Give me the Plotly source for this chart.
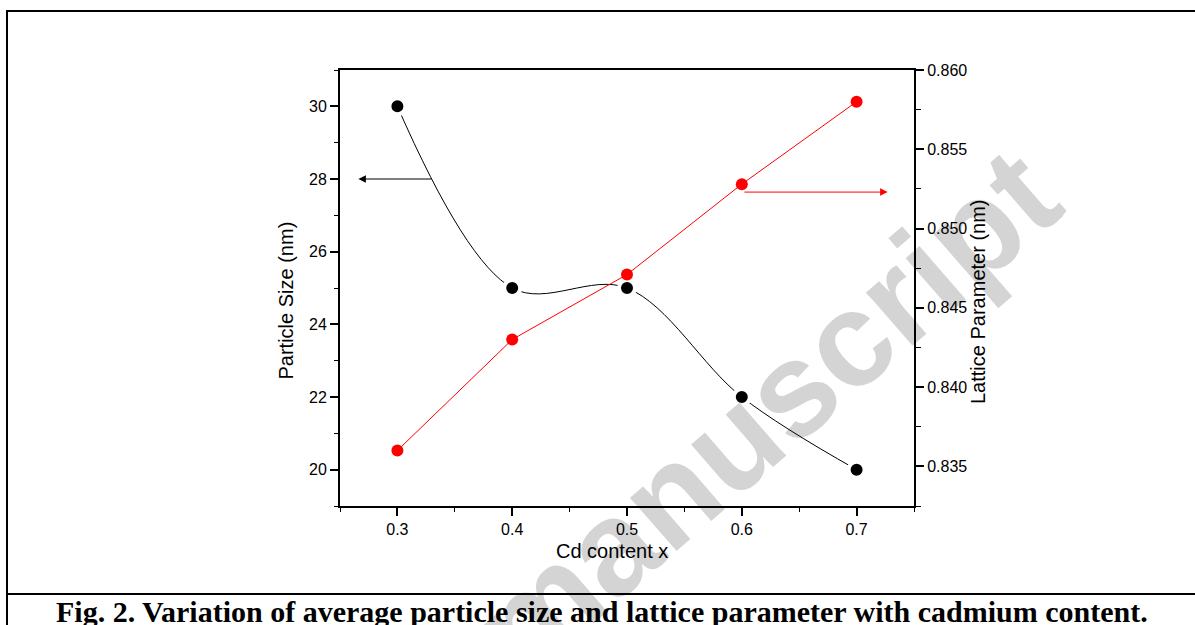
import plotly.graph_objects as go

# ---------------- data ----------------
cd_content = [0.3, 0.4, 0.5, 0.6, 0.7]
particle_size = [30, 25, 25, 22, 20]
lattice_param = [0.836, 0.843, 0.8471, 0.8528, 0.858]

x_ticks = [0.3, 0.4, 0.5, 0.6, 0.7]
y_ticks = [20, 22, 24, 26, 28, 30]
y2_ticks = [0.835, 0.840, 0.845, 0.850, 0.855, 0.860]

x_title = "Cd content x"
y_title = "Particle Size (nm)"
y2_title = "Lattice Parameter (nm)"
caption = "Fig. 2. Variation of average particle size and lattice parameter with cadmium content."
watermark = "manuscript"

# arrows (data coords): tail -> head
size_arrow = dict(x_from=0.331, x_to=0.266, y=28.0)
lattice_arrow = dict(x_from=0.601, x_to=0.727, y=0.8523)

# ---------------- layout geometry ----------------
W, H = 1195, 625
L, R, T, B = 340, 914, 70, 506  # plot area in pixels


def px(x):
    return (x - L) / (R - L)


def py(y):
    return (B - y) / (B - T)


FONT = "Liberation Sans, Arial, sans-serif"

fig = go.Figure()

fig.add_trace(go.Scatter(
    x=cd_content, y=particle_size, mode="lines+markers",
    line=dict(color="black", width=1, shape="spline", smoothing=1),
    marker=dict(color="black", size=16, line=dict(color="white", width=4)),
    yaxis="y", showlegend=False, hoverinfo="x+y",
))

fig.add_trace(go.Scatter(
    x=cd_content, y=lattice_param, mode="lines+markers",
    line=dict(color="#ff0000", width=1),
    marker=dict(color="#ff0000", size=12),
    yaxis="y2", showlegend=False, hoverinfo="x+y",
))

axis_common = dict(
    showgrid=False, zeroline=False, showline=True, linecolor="black", linewidth=2,
    ticks="outside", ticklen=8, tickwidth=1.5, tickcolor="black",
    tickfont=dict(family=FONT, size=16, color="black"),
)

fig.update_layout(
    width=W, height=H,
    margin=dict(l=L, r=W - R, t=T, b=H - B),
    paper_bgcolor="white", plot_bgcolor="white",
    xaxis=dict(
        range=[0.25, 0.75], tickvals=x_ticks, ticktext=[f"{v:.1f}" for v in x_ticks],
        mirror=True,
        minor=dict(dtick=0.05, tick0=0.25, ticks="outside", ticklen=4, tickwidth=1, tickcolor="black"),
        **axis_common,
    ),
    yaxis=dict(
        range=[19, 31], tickvals=y_ticks, ticktext=[str(v) for v in y_ticks],
        minor=dict(dtick=1, tick0=19, ticks="outside", ticklen=4, tickwidth=1, tickcolor="black"),
        **axis_common,
    ),
    yaxis2=dict(
        range=[0.8325, 0.860], tickvals=y2_ticks, ticktext=[f"{v:.3f}" for v in y2_ticks],
        overlaying="y", side="right", anchor="x",
        minor=dict(dtick=0.0025, tick0=0.8325, ticks="outside", ticklen=5, tickwidth=1, tickcolor="black"),
        **axis_common,
    ),
)

annotations = [
    # watermark (semi-transparent so dark marks beneath stay dark)
    dict(text=f"<b>{watermark}</b>", xref="paper", yref="paper", x=px(765), y=py(412),
         xanchor="center", yanchor="middle", showarrow=False, textangle=-41,
         font=dict(family=FONT, size=134, color="rgba(0,0,0,0.17)")),
    # axis titles
    dict(text=y_title, xref="paper", yref="paper", x=px(285.5), y=py(301),
         xanchor="center", yanchor="middle", showarrow=False, textangle=-90,
         font=dict(family=FONT, size=20, color="black")),
    dict(text=y2_title, xref="paper", yref="paper", x=px(978), y=py(302),
         xanchor="center", yanchor="middle", showarrow=False, textangle=-90,
         font=dict(family=FONT, size=20, color="black")),
    dict(text=x_title, xref="paper", yref="paper", x=px(612), y=py(550.5),
         xanchor="center", yanchor="middle", showarrow=False,
         font=dict(family=FONT, size=20, color="black")),
    # caption
    dict(text=f"<b>{caption}</b>", xref="paper", yref="paper", x=px(602), y=py(611),
         xanchor="center", yanchor="middle", showarrow=False,
         font=dict(family="Liberation Serif, Times New Roman, serif", size=30, color="black")),
    # arrows
    dict(x=size_arrow["x_to"], y=size_arrow["y"], xref="x", yref="y",
         ax=size_arrow["x_from"], ay=size_arrow["y"], axref="x", ayref="y",
         showarrow=True, arrowhead=2, arrowsize=1.5, arrowwidth=1, arrowcolor="black", text=""),
    dict(x=lattice_arrow["x_to"], y=lattice_arrow["y"], xref="x", yref="y2",
         ax=lattice_arrow["x_from"], ay=lattice_arrow["y"], axref="x", ayref="y2",
         showarrow=True, arrowhead=2, arrowsize=1.5, arrowwidth=1, arrowcolor="#ff0000", text=""),
]
fig.update_layout(annotations=annotations)

# frame lines (table-cell border around the figure)
line_style = dict(color="black", width=2)
fig.add_shape(type="line", xref="paper", yref="paper", x0=px(7), x1=px(7), y0=py(10), y1=py(640), line=line_style)
fig.add_shape(type="line", xref="paper", yref="paper", x0=px(6), x1=px(1210), y0=py(11), y1=py(11), line=line_style)
fig.add_shape(type="line", xref="paper", yref="paper", x0=px(6), x1=px(1210), y0=py(594), y1=py(594), line=line_style)

# remove the default page margin so the 1195x625 figure fills the window exactly
fig.write_html(
    "out.html",
    config={"displayModeBar": False},
    post_script="document.body.style.margin='0';document.body.style.overflow='hidden';",
)
